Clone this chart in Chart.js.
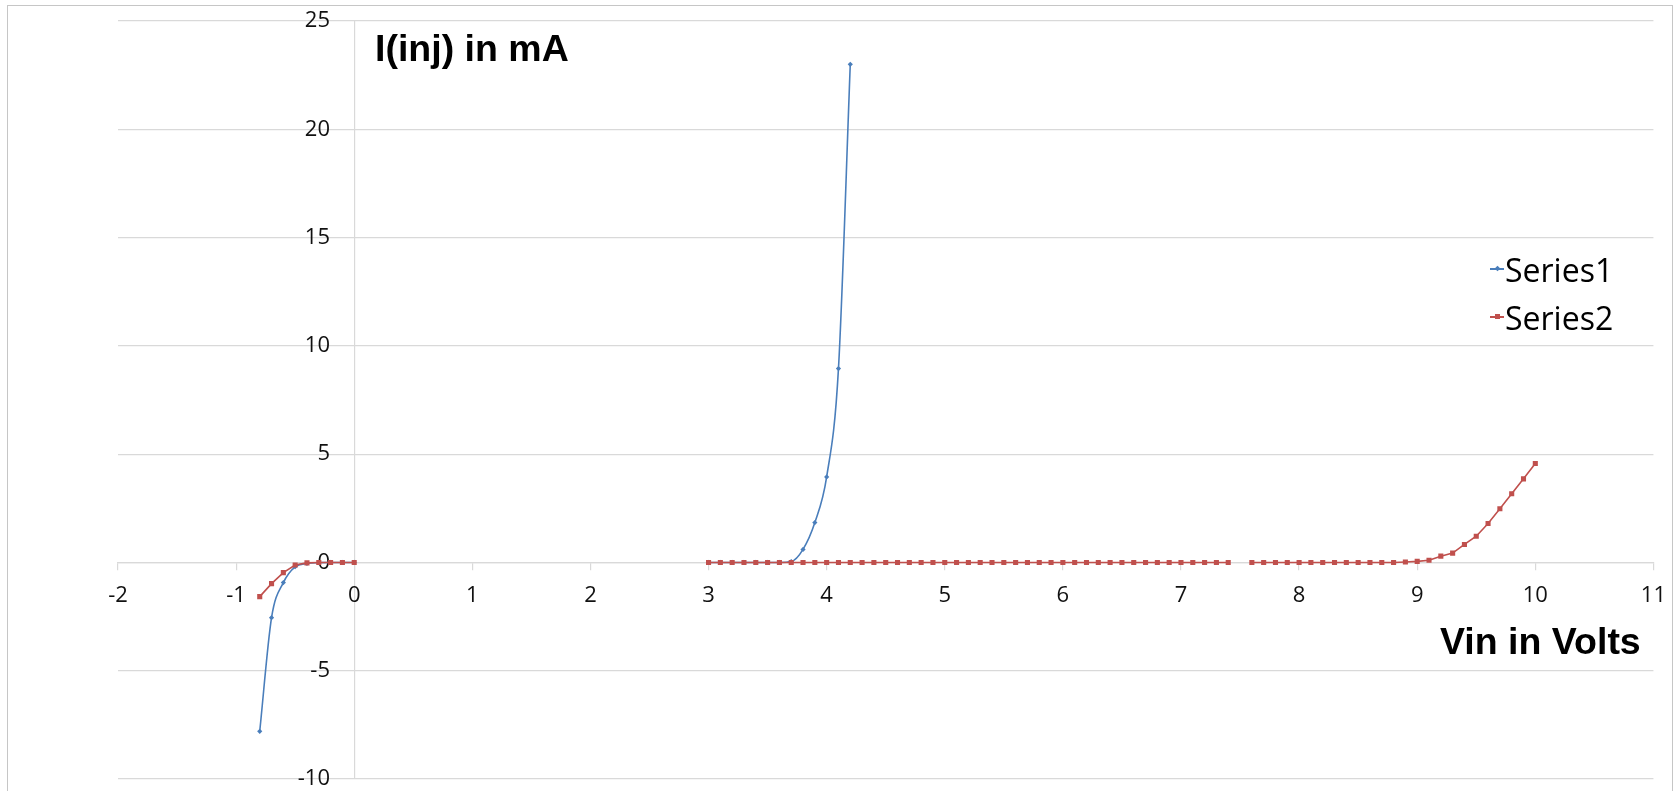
<!DOCTYPE html>
<html lang="en">
<head>
<meta charset="UTF-8">
<title>I(inj) vs Vin</title>
<script src="https://cdn.jsdelivr.net/npm/chart.js"></script>
<style>
  body { margin: 0; background: #fff; overflow: hidden; }
  .frame {
    position: absolute; left: 7px; top: 5px; width: 1666px; height: 830px;
    border: 1.5px solid #c6c6c6; box-sizing: border-box;
  }
  .chart-box { position: absolute; left: 0; top: 0; width: 1679px; height: 800px; }
  .axis-title {
    position: absolute; font-family: "Liberation Sans", Arial, sans-serif;
    font-weight: bold; font-size: 37.5px; line-height: 1; color: #000; white-space: nowrap;
  }
  #legend { position: absolute; left: 1490px; top: 245px; font-family: "Open Sans", sans-serif; font-size: 32px; color: #000; }
  #legend .row { display: flex; align-items: center; height: 48px; }
  #legend .swatch { position: relative; width: 14px; height: 2px; margin-right: 1px; }
  #legend .swatch i { position: absolute; left: 5px; top: -2px; width: 5px; height: 5px; }
</style>
</head>
<body>
  <div class="frame"></div>
  <div class="chart-box">
    <canvas id="injChart" width="1679" height="800"></canvas>
  </div>
  <div class="axis-title" style="left:375px; top:30px;">I(inj) in mA</div>
  <div class="axis-title" style="left:1440px; top:623px;">Vin in Volts</div>
  <div id="legend"></div>

<script>
  // Vin (V) and I(inj) (mA), measured in three sweeps
  const vNeg = [-0.8, -0.7, -0.6, -0.5, -0.4, -0.3, -0.2, -0.1, 0];
  const s1Neg = [-7.8, -2.55, -0.93, -0.2, -0.05, -0.01, 0, 0, 0];
  const s2Neg = [-1.58, -0.98, -0.47, -0.12, -0.02, 0, 0, 0, 0];

  const vS1 = [3.0, 3.1, 3.2, 3.3, 3.4, 3.5, 3.6, 3.7, 3.8, 3.9, 4.0, 4.1, 4.2];
  const s1Pos = [0, 0, 0, 0, 0, 0, 0, 0.04, 0.6, 1.84, 3.95, 8.95, 23.0];

  const vS2a = [3.0, 3.1, 3.2, 3.3, 3.4, 3.5, 3.6, 3.7, 3.8, 3.9,
                4.0, 4.1, 4.2, 4.3, 4.4, 4.5, 4.6, 4.7, 4.8, 4.9,
                5.0, 5.1, 5.2, 5.3, 5.4, 5.5, 5.6, 5.7, 5.8, 5.9,
                6.0, 6.1, 6.2, 6.3, 6.4, 6.5, 6.6, 6.7, 6.8, 6.9,
                7.0, 7.1, 7.2, 7.3, 7.4];
  const s2a = [0, 0, 0, 0, 0, 0, 0, 0, 0, 0,
               0, 0, 0, 0, 0, 0, 0, 0, 0, 0,
               0, 0, 0, 0, 0, 0, 0, 0, 0, 0,
               0, 0, 0, 0, 0, 0, 0, 0, 0, 0,
               0, 0, 0, 0, 0];

  const vS2b = [7.6, 7.7, 7.8, 7.9, 8.0, 8.1, 8.2, 8.3, 8.4, 8.5, 8.6, 8.7, 8.8,
                8.9, 9.0, 9.1, 9.2, 9.3, 9.4, 9.5, 9.6, 9.7, 9.8, 9.9, 10.0];
  const s2b = [0, 0, 0, 0, 0, 0, 0, 0, 0, 0, 0, 0, 0,
               0.02, 0.05, 0.1, 0.29, 0.43, 0.83, 1.21, 1.8, 2.48, 3.17, 3.86, 4.57];

  const seriesNames = ['Series1', 'Series2'];
  const seriesColors = ['#4a7ebb', '#c0504d'];
  const xRange = [-2, 11];
  const yRange = [-10, 25];

  // join sweeps into one list of points, with an empty point between them so the line breaks
  function joinSweeps(...sweeps) {
    const out = [];
    sweeps.forEach(([xs, ys], k) => {
      if (k > 0) out.push({ x: xs[0], y: null });
      xs.forEach((x, i) => out.push({ x: x, y: ys[i] }));
    });
    return out;
  }

  const gridGrey = '#d9d9d9';
  const tickFont = { family: '"Open Sans", sans-serif', size: 22 };

  const chart = new Chart(document.getElementById('injChart'), {
    type: 'scatter',
    data: {
      datasets: [
        {
          label: seriesNames[0],
          data: joinSweeps([vNeg, s1Neg], [vS1, s1Pos]),
          showLine: true,
          spanGaps: false,
          borderColor: seriesColors[0],
          backgroundColor: seriesColors[0],
          borderWidth: 1.6,
          cubicInterpolationMode: 'monotone',
          pointStyle: 'rectRot',
          pointRadius: 2.6,
          pointBorderWidth: 0,
          order: 1
        },
        {
          label: seriesNames[1],
          data: joinSweeps([vNeg, s2Neg], [vS2a, s2a], [vS2b, s2b]),
          showLine: true,
          spanGaps: false,
          borderColor: seriesColors[1],
          backgroundColor: seriesColors[1],
          borderWidth: 1.6,
          tension: 0,
          pointStyle: 'rect',
          pointRadius: 3.6,
          pointBorderWidth: 0,
          order: 0
        }
      ]
    },
    options: {
      responsive: false,
      animation: false,
      layout: { padding: { top: 21, left: 118, right: 22, bottom: 21 } },
      plugins: {
        legend: { display: false },
        tooltip: { enabled: false }
      },
      scales: {
        x: {
          type: 'linear',
          min: xRange[0],
          max: xRange[1],
          position: { y: 0 },
          // only the line at Vin = 0 crosses the plot; every tick keeps its short mark
          grid: {
            drawOnChartArea: true,
            drawTicks: true,
            tickLength: 7,
            color: c => (c.tick && c.tick.value === 0 ? gridGrey : 'rgba(0,0,0,0)'),
            tickColor: gridGrey,
            lineWidth: 1.2
          },
          border: { color: gridGrey, width: 1.2 },
          ticks: { stepSize: 1, padding: 13, color: '#111', font: tickFont, maxRotation: 0 }
        },
        y: {
          type: 'linear',
          min: yRange[0],
          max: yRange[1],
          // labels sit a little left of the Vin = 0 line
          position: { x: -0.205 },
          grid: { color: gridGrey, drawTicks: false, lineWidth: 1.2 },
          border: { display: false },
          ticks: { stepSize: 5, padding: 0, color: '#111', font: tickFont }
        }
      }
    }
  });

  // legend: short line with the series marker, then the name
  const legendBox = document.getElementById('legend');
  chart.data.datasets.forEach(ds => {
    const row = document.createElement('div');
    row.className = 'row';
    const sw = document.createElement('span');
    sw.className = 'swatch';
    sw.style.background = ds.borderColor;
    const mk = document.createElement('i');
    mk.style.background = ds.borderColor;
    if (ds.pointStyle === 'rectRot') mk.style.transform = 'rotate(45deg) scale(0.8)';
    sw.appendChild(mk);
    row.appendChild(sw);
    row.appendChild(document.createTextNode(ds.label));
    legendBox.appendChild(row);
  });
</script>
</body>
</html>
